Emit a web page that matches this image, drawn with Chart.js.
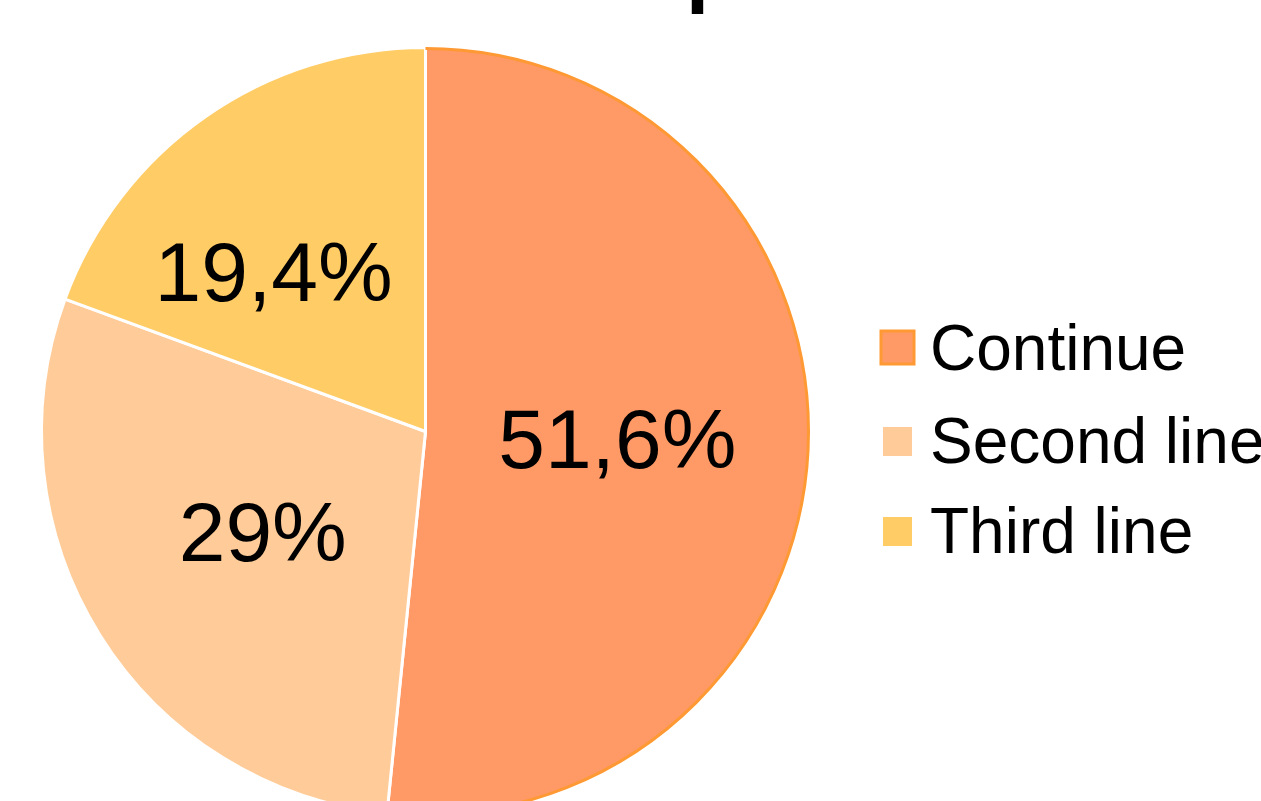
<!DOCTYPE html>
<html>
<head>
<meta charset="utf-8">
<script src="https://cdn.jsdelivr.net/npm/chart.js@4"></script>
<style>
  html, body { margin: 0; padding: 0; background: #fff; overflow: hidden; }
  #wrap { position: relative; width: 1261px; height: 1000px; }
</style>
</head>
<body>
<div id="wrap"><canvas id="pie" width="1261" height="1000"></canvas></div>
<script>
const categorias = ['Continue', 'Second line', 'Third line'];
const porcentajes = [51.6, 29, 19.4];
const colores = ['#FF9966', '#FFCC99', '#FFCC66'];

const fuente = '"Liberation Sans", Arial, sans-serif';

function formatoPct(v) {
    return String(v).replace('.', ',') + '%';
}

// etiquetas de porcentaje dentro de cada porción
const etiquetasPlugin = {
    id: 'etiquetas',
    afterDatasetsDraw(chart) {
        const ctx = chart.ctx;
        const meta = chart.getDatasetMeta(0);
        const ajuste = [[0, 0], [0, 0], [-42, 0]];
        ctx.save();

        // borde naranja sobre el arco exterior de la primera porción
        const a0 = meta.data[0];
        ctx.beginPath();
        ctx.arc(a0.x, a0.y, a0.outerRadius - 1, a0.startAngle, a0.endAngle);
        ctx.strokeStyle = '#FF9933';
        ctx.lineWidth = 3;
        ctx.stroke();

        ctx.font = '84px ' + fuente;
        ctx.fillStyle = '#000';
        ctx.textAlign = 'center';
        ctx.textBaseline = 'middle';
        meta.data.forEach((arc, i) => {
            const mid = (arc.startAngle + arc.endAngle) / 2;
            const r = arc.outerRadius * 0.5;
            const x = arc.x + Math.cos(mid) * r + ajuste[i][0];
            const y = arc.y + Math.sin(mid) * r + ajuste[i][1];
            ctx.fillText(formatoPct(porcentajes[i]), x, y + 4);
        });
        ctx.restore();
    }
};

// leyenda a la derecha del gráfico
const leyendaPlugin = {
    id: 'leyenda',
    afterDraw(chart) {
        const ctx = chart.ctx;
        const filas = [347, 440, 530];
        ctx.save();
        ctx.font = '64px ' + fuente;
        ctx.textAlign = 'left';
        ctx.textBaseline = 'alphabetic';
        chart.data.labels.forEach((txt, i) => {
            const cy = filas[i];
            if (i === 0) {
                ctx.fillStyle = colores[i];
                ctx.fillRect(881, cy - 16, 33, 33);
                ctx.strokeStyle = '#FF9933';
                ctx.lineWidth = 3;
                ctx.strokeRect(881, cy - 16, 33, 33);
            } else {
                ctx.fillStyle = colores[i];
                ctx.fillRect(883, cy - 13, 29, 29);
            }
            ctx.fillStyle = '#000';
            ctx.fillText(txt, 930, cy + 23);
        });

        // parte inferior del título
        ctx.font = '130px ' + fuente;
        ctx.fillText('p', 683, -13);
        ctx.restore();
    }
};

new Chart(document.getElementById('pie'), {
    type: 'pie',
    data: {
        labels: categorias,
        datasets: [{
            data: porcentajes,
            backgroundColor: colores,
            borderColor: '#FFFFFF',
            borderWidth: 3
        }]
    },
    options: {
        responsive: false,
        animation: false,
        layout: {
            padding: { left: 40, top: 46, right: 450, bottom: 183 }
        },
        plugins: {
            legend: { display: false },
            tooltip: { enabled: false }
        }
    },
    plugins: [etiquetasPlugin, leyendaPlugin]
});
</script>
</body>
</html>
